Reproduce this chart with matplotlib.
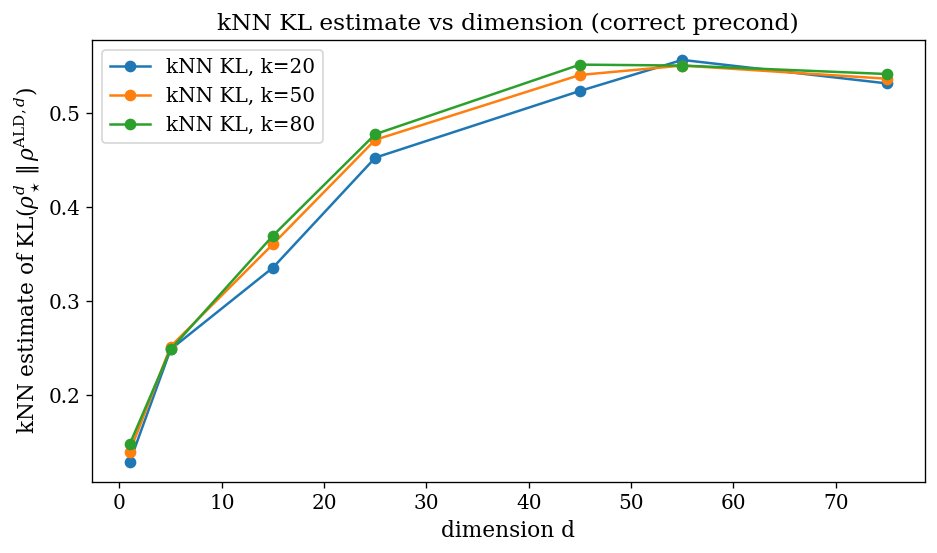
import matplotlib
matplotlib.use('Agg')
import matplotlib.pyplot as plt

plt.rcParams['font.family'] = 'serif'
plt.rcParams['mathtext.fontset'] = 'dejavuserif'
plt.rcParams['font.size'] = 13

# 维度与各 k 的 kNN KL 估计值
dims = [1, 5, 15, 25, 45, 55, 75]
kl_k20 = [0.129, 0.249, 0.336, 0.453, 0.524, 0.557, 0.532]
kl_k50 = [0.140, 0.252, 0.361, 0.472, 0.541, 0.551, 0.537]
kl_k80 = [0.148, 0.249, 0.370, 0.478, 0.552, 0.551, 0.542]

fig, ax = plt.subplots(figsize=(937 / 120, 553 / 120), dpi=120)

ax.plot(dims, kl_k20, '-o', label='kNN KL, k=20')
ax.plot(dims, kl_k50, '-o', label='kNN KL, k=50')
ax.plot(dims, kl_k80, '-o', label='kNN KL, k=80')

ax.set_title('kNN KL estimate vs dimension (correct precond)', fontsize=14)
ax.set_xlabel('dimension d', fontsize=13)
ax.set_ylabel(r'kNN estimate of KL($\rho_\star^d\,\|\,\rho^{\mathrm{ALD},d}$)', fontsize=13)
ax.tick_params(labelsize=12)
ax.legend(loc='upper left', fontsize=12)

# 按参考图手动调整边距
fig.subplots_adjust(left=0.098, right=0.987, top=0.928, bottom=0.128)
plt.savefig('out.png', dpi=120)
